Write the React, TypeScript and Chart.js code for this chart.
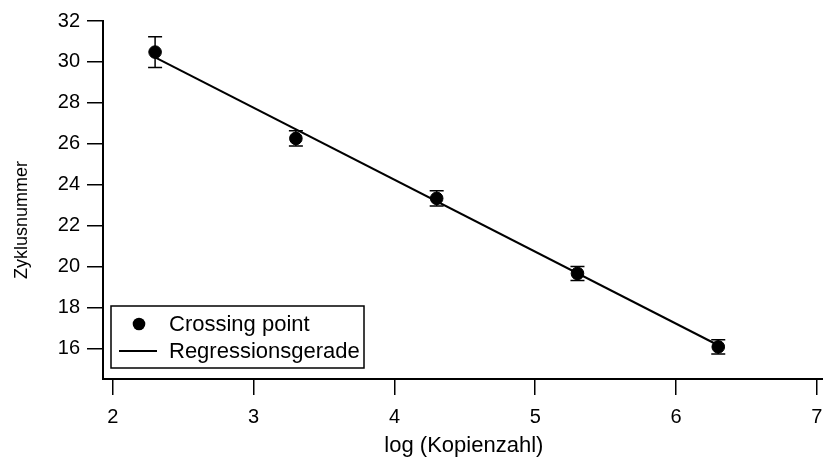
import React, { useEffect, useRef } from "react";
import { Chart, registerables } from "chart.js";

Chart.register(...registerables);

const xValues = [2.3, 3.3, 4.3, 5.3, 6.3];
const yValues = [30.48, 26.26, 23.33, 19.66, 16.07];
const yErrors = [0.75, 0.37, 0.37, 0.34, 0.35];
const regressionX = [2.3, 6.3];
const regressionY = [30.22, 16.15];
const xTicks = [2, 3, 4, 5, 6, 7];
const yTicks = [16, 18, 20, 22, 24, 26, 28, 30, 32];
const seriesLabels = ["Crossing point", "Regressionsgerade"];
const xTitle = "log (Kopienzahl)";
const yTitle = "Zyklusnummer";

const FONT = "'Liberation Sans', Arial, Helvetica, sans-serif";
const TICK_SIZE = 20;
const TITLE_SIZE = 22;
const Y_TITLE_SIZE = 18;
const LEGEND_SIZE = 22;

const errorBarPlugin = {
  id: "errorBars",
  afterDatasetsDraw(chart: any) {
    const { ctx, scales } = chart;
    const xs = scales.x;
    const ys = scales.y;
    ctx.save();
    ctx.strokeStyle = "#000";
    ctx.lineWidth = 1.5;
    xValues.forEach((xv, i) => {
      const px = xs.getPixelForValue(xv);
      const top = ys.getPixelForValue(yValues[i] + yErrors[i]);
      const bot = ys.getPixelForValue(yValues[i] - yErrors[i]);
      ctx.beginPath();
      ctx.moveTo(px, top);
      ctx.lineTo(px, bot);
      ctx.moveTo(px - 7, top);
      ctx.lineTo(px + 7, top);
      ctx.moveTo(px - 7, bot);
      ctx.lineTo(px + 7, bot);
      ctx.stroke();
    });
    ctx.restore();
  },
};

const yTitlePlugin = {
  id: "yTitle",
  afterDraw(chart: any) {
    const { ctx, chartArea } = chart;
    const cx = 22;
    const cy = (chartArea.top + chartArea.bottom) / 2 + 20;
    ctx.save();
    ctx.font = `${Y_TITLE_SIZE}px ${FONT}`;
    ctx.translate(cx, cy);
    ctx.rotate(-Math.PI / 2);
    ctx.fillStyle = "#000";
    ctx.textAlign = "center";
    ctx.textBaseline = "middle";
    ctx.fillText(yTitle, 0, 0);
    ctx.restore();
  },
};

const boxLegendPlugin = {
  id: "boxLegend",
  afterDraw(chart: any) {
    const { ctx, chartArea } = chart;
    const left = chartArea.left + 8;
    const bottom = chartArea.bottom - 11;
    const height = 62;
    const width = 253;
    const top = bottom - height;
    ctx.save();
    ctx.fillStyle = "#fff";
    ctx.fillRect(left, top, width, height);
    ctx.strokeStyle = "#000";
    ctx.lineWidth = 1.5;
    ctx.strokeRect(left, top, width, height);
    const row1 = top + 18;
    const row2 = top + 45;
    ctx.fillStyle = "#000";
    ctx.beginPath();
    ctx.arc(left + 28, row1, 6.3, 0, Math.PI * 2);
    ctx.fill();
    ctx.lineWidth = 2;
    ctx.beginPath();
    ctx.moveTo(left + 8, row2);
    ctx.lineTo(left + 46, row2);
    ctx.stroke();
    ctx.font = `${LEGEND_SIZE}px ${FONT}`;
    ctx.textBaseline = "middle";
    ctx.textAlign = "left";
    ctx.fillText(seriesLabels[0], left + 58, row1 + 1);
    ctx.fillText(seriesLabels[1], left + 58, row2 + 1);
    ctx.restore();
  },
};

export default function App() {
  const canvasRef = useRef<HTMLCanvasElement | null>(null);

  useEffect(() => {
    document.body.style.margin = "0";
    document.body.style.overflow = "hidden";
    document.documentElement.style.overflow = "hidden";
    const canvas = canvasRef.current;
    if (!canvas) return;
    const chart = new Chart(canvas, {
      type: "scatter",
      data: {
        datasets: [
          {
            type: "line",
            label: seriesLabels[1],
            data: regressionX.map((x, i) => ({ x, y: regressionY[i] })),
            borderColor: "#000",
            borderWidth: 2,
            pointRadius: 0,
            fill: false,
            order: 2,
          } as any,
          {
            type: "scatter",
            label: seriesLabels[0],
            data: xValues.map((x, i) => ({ x, y: yValues[i] })),
            backgroundColor: "#000",
            borderColor: "#000",
            pointRadius: 6.3,
            pointHoverRadius: 6.3,
            order: 1,
          },
        ],
      },
      options: {
        responsive: false,
        animation: false,
        devicePixelRatio: 1,
        layout: { padding: { top: 21, right: 1, left: 0, bottom: 0 } },
        plugins: {
          legend: { display: false },
          tooltip: { enabled: false },
        },
        scales: {
          x: {
            type: "linear",
            position: "bottom",
            min: 1.93,
            max: 7.056,
            afterBuildTicks: (s: any) => {
              s.ticks = xTicks.map((v) => ({ value: v }));
            },
            afterFit: (s: any) => {
              s.height = 80;
              s.paddingRight = 0;
              s.paddingLeft = 0;
            },
            grid: {
              drawOnChartArea: false,
              drawTicks: true,
              tickLength: 16,
              color: "#000",
              lineWidth: 1.5,
            },
            border: { display: true, color: "#000", width: 2 },
            ticks: {
              color: "#000",
              font: { family: FONT, size: TICK_SIZE },
              padding: 10,
              maxRotation: 0,
              autoSkip: false,
            },
            title: {
              display: true,
              text: xTitle,
              color: "#000",
              font: { family: FONT, size: TITLE_SIZE },
              padding: { top: 0, bottom: 0 },
            },
          },
          y: {
            type: "linear",
            min: 14.5,
            max: 32,
            afterBuildTicks: (s: any) => {
              s.ticks = yTicks.map((v) => ({ value: v }));
            },
            afterFit: (s: any) => {
              s.width = 103;
            },
            grid: {
              drawOnChartArea: false,
              drawTicks: true,
              tickLength: 16,
              color: "#000",
              lineWidth: 1.5,
            },
            border: { display: true, color: "#000", width: 2 },
            ticks: {
              color: "#000",
              font: { family: FONT, size: TICK_SIZE },
              padding: 7,
              autoSkip: false,
            },
            title: { display: false },
          },
        },
      },
      plugins: [errorBarPlugin, yTitlePlugin, boxLegendPlugin],
    });
    return () => chart.destroy();
  }, []);

  return (
    <div style={{ width: 832, height: 459 }}>
      <canvas ref={canvasRef} width={832} height={459} style={{ display: "block" }} />
    </div>
  );
}
